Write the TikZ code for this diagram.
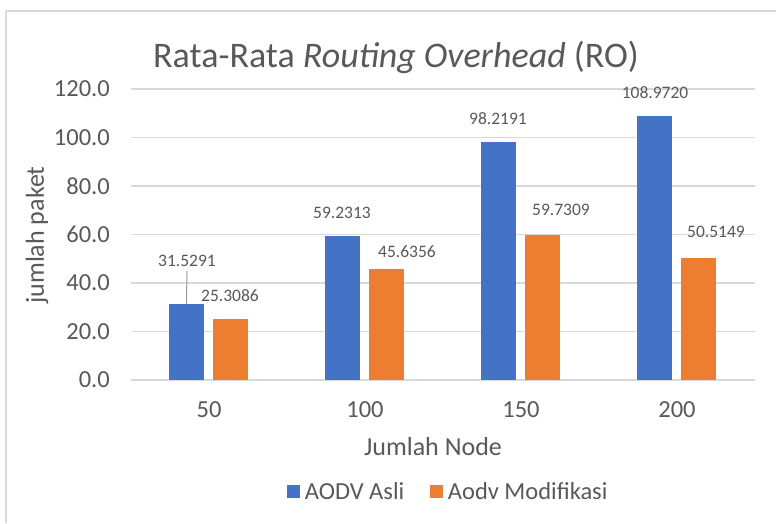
\documentclass[tikz,border=0pt]{standalone}
\usepackage{fontspec}
\setmainfont{Carlito}
\definecolor{asli}{HTML}{4472C4}
\definecolor{modif}{HTML}{ED7D31}
\definecolor{gridgray}{HTML}{D9D9D9}
\definecolor{txtgray}{HTML}{595959}
\begin{document}
\begin{tikzpicture}[x=1pt,y=-1pt,
  every node/.style={text=txtgray,inner sep=0pt},
  tick/.style={font=\fontsize{24.5}{28}\selectfont},
  vlabel/.style={font=\fontsize{17.5}{21}\selectfont},
  axtitle/.style={font=\fontsize{26}{30}\selectfont},
  bara/.style={fill=asli},
  barb/.style={fill=modif},
  key/.style={minimum size=13pt}]
\useasboundingbox (0,0) rectangle (776,523);
\fill[white] (0,0) rectangle (776,523);
% frame of the chart area (left and top edge show)
\draw[gridgray,line width=2pt] (6,523) -- (6,11) -- (776,11);
\node[font=\fontsize{36}{40}\selectfont,anchor=base] (title) at (396,67) {Rata-Rata \textit{Routing Overhead} (RO)};
% plot area, y in data units
\begin{scope}[shift={(0,380)},y=2.425pt]
\foreach \v in {0,20,...,120} {
  \draw[gridgray,line width=1.5pt] (131,\v) -- (755,\v);
  \node[tick,anchor=east] (t\v) at (110,\v) {\v.0};
}
% AODV Asli
\fill[bara] (169,0) rectangle (204,31.5291);
\fill[bara] (325,0) rectangle (360,59.2313);
\fill[bara] (481,0) rectangle (516,98.2191);
\fill[bara] (637,0) rectangle (672,108.9720);
% Aodv Modifikasi
\fill[barb] (213,0) rectangle (248,25.3086);
\fill[barb] (369,0) rectangle (404,45.6356);
\fill[barb] (525,0) rectangle (560,59.7309);
\fill[barb] (681,0) rectangle (716,50.5149);
\coordinate (a50top) at (186.5,31.5291);
\end{scope}
% value labels
\node[vlabel] (a50) at (187,261) {31.5291};
\node[vlabel] (b50) at (230,296) {25.3086};
\node[vlabel] (a100) at (342,213) {59.2313};
\node[vlabel] (b100) at (407,252) {45.6356};
\node[vlabel] (a150) at (498,119) {98.2191};
\node[vlabel] (b150) at (561,210) {59.7309};
\node[vlabel] (a200) at (655,93) {108.9720};
\node[vlabel] (b200) at (716,232) {50.5149};
\draw[gray!80,line width=1pt,shorten <=4pt] (a50.south) -- (a50top);
% category axis
\node[tick] (c50) at (209,410) {50};
\node[tick] (c100) at (365,410) {100};
\node[tick] (c150) at (521,410) {150};
\node[tick] (c200) at (677,410) {200};
\node[axtitle] (xlab) at (433,447) {Jumlah Node};
\node[axtitle,rotate=90] (ylab) at (37,235) {jumlah paket};
% legend
\node[key,fill=asli] (keya) at (293,491) {};
\node[tick,anchor=west,font=\fontsize{24.5}{28}\selectfont] (leg1) at ([xshift=5pt]keya.east) {AODV Asli};
\node[key,fill=modif] (keyb) at (436,491) {};
\node[tick,anchor=west] (leg2) at ([xshift=5pt]keyb.east) {Aodv Modifikasi};
\end{tikzpicture}
\end{document}
